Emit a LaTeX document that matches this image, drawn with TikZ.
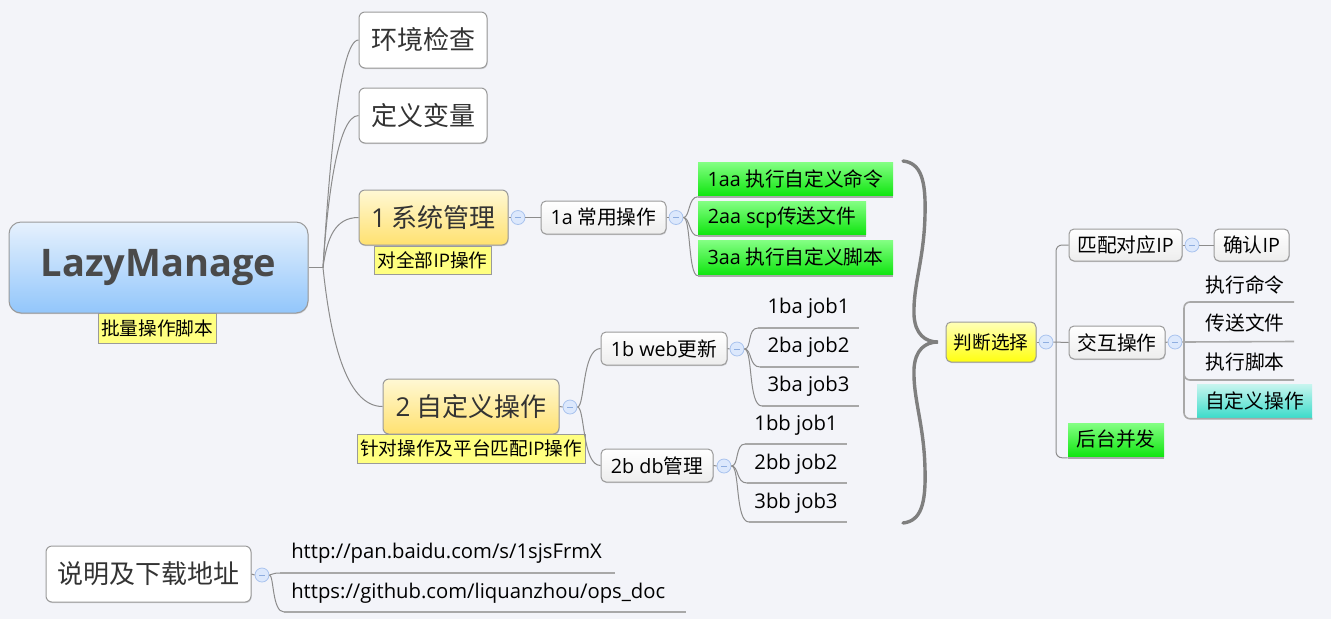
\documentclass[tikz,border=0pt]{standalone}
\usepackage{fontspec}
\setmainfont{Noto Sans CJK SC}
\newfontfamily\latf{Open Sans}
\usetikzlibrary{shadows}
\newdimen\PX \PX=0.75pt
\newcommand\LT[1]{{\latf #1}}
\newcommand\FSZ[1]{\fontsize{#1}{#1}\selectfont}
\definecolor{bg}{HTML}{F3F4F9}
\definecolor{bord}{HTML}{9A9A9A}
\definecolor{conn}{HTML}{8C8C8C}
\definecolor{uline}{HTML}{A8A8A8}
\definecolor{rootT}{HTML}{E6F1FD}
\definecolor{rootB}{HTML}{92C6FB}
\definecolor{yelT}{HTML}{FFF8D4}
\definecolor{yelB}{HTML}{FFE170}
\definecolor{lab}{HTML}{FFFF80}
\definecolor{grT}{HTML}{84FF84}
\definecolor{grB}{HTML}{12E612}
\definecolor{tlT}{HTML}{C8F5EF}
\definecolor{tlB}{HTML}{40DCCB}
\definecolor{jT}{HTML}{FFFFB8}
\definecolor{jB}{HTML}{FFFF10}
\definecolor{wB}{HTML}{EDEDED}
\definecolor{cirF}{HTML}{DCE8FC}
\definecolor{cirD}{HTML}{A9C3EE}
\definecolor{cirM}{HTML}{8FAEE0}
\definecolor{txt}{HTML}{333333}
\definecolor{roottxt}{HTML}{4A4A4A}
\definecolor{brace}{HTML}{7F7F7F}
\tikzset{
  base/.style={inner sep=0pt, text=txt},
  shad/.style={drop shadow={shadow xshift=0.4pt, shadow yshift=-0.8pt, fill=black, opacity=0.15}},
  boxed/.style={base, draw=bord, line width=1\PX, rounded corners=6\PX, shad},
  whitebox/.style={boxed, fill=white, font=\FSZ{19.5pt}},
  topicbox/.style={boxed, top color=yelT, bottom color=yelB, font=\FSZ{19.5pt}},
  subbox/.style={boxed, top color=white, bottom color=wB, text=black, rounded corners=5\PX, font=\FSZ{14.8pt}},
  rootbox/.style={boxed, top color=rootT, bottom color=rootB, rounded corners=12\PX, text=roottxt, font=\FSZ{28.5pt}},
  labelbox/.style={base, draw=bord, fill=lab, line width=1\PX, text=black, font=\FSZ{14pt}},
  greenbox/.style={base, top color=grT, bottom color=grB, text=black, font=\FSZ{14.8pt}},
  tealbox/.style={base, top color=tlT, bottom color=tlB, text=black, font=\FSZ{14.8pt}},
  judgebox/.style={boxed, top color=jT, bottom color=jB, text=black, rounded corners=5\PX, font=\FSZ{14pt}},
  plain/.style={base, text=black, font=\FSZ{14.8pt}},
  latplain/.style={base, text=black, font=\FSZ{15.2pt}},
  coll/.style={circle, inner sep=0pt, minimum size=14\PX, fill=cirF, draw=cirD, line width=0.8\PX,
    path picture={\draw[cirM, line width=0.9\PX] ([xshift=-2.6\PX]path picture bounding box.center) -- ([xshift=2.6\PX]path picture bounding box.center);}},
  cn/.style={draw=conn, line width=1\PX},
  ul/.style={draw=uline, line width=1.6\PX},
}
\begin{document}
\begin{tikzpicture}[x=0.75pt,y=-0.75pt]
\useasboundingbox[fill=bg] (0,0) rectangle (1331,619);

% ---------- root ----------
\node[rootbox, minimum width=299\PX, minimum height=91\PX] (root) at (158.5,267.5) {\latf\bfseries LazyManage};
\node[labelbox, minimum width=118\PX, minimum height=30\PX] (rootlab) at (157,328) {批量操作脚本};
\coordinate (rj) at (323,267.5);

% ---------- first-level topics ----------
\node[whitebox, minimum width=128\PX, minimum height=56\PX] (env) at (423,40) {环境检查};
\node[whitebox, minimum width=128\PX, minimum height=55\PX] (def) at (423,115.5) {定义变量};
\node[topicbox, minimum width=149\PX, minimum height=55\PX] (sys) at (433.5,217.5) {\LT{1} 系统管理};
\node[labelbox, minimum width=117\PX, minimum height=28\PX] (syslab) at (432.5,260) {对全部\LT{IP}操作};
\node[topicbox, minimum width=176\PX, minimum height=55\PX] (cus) at (471,406.5) {\LT{2} 自定义操作};
\node[labelbox, minimum width=228\PX, minimum height=29\PX] (cuslab) at (471,448.5) {针对操作及平台匹配\LT{IP}操作};

\draw[cn] (root.east) -- (rj);
\draw[cn] (rj) .. controls (328,190) and (338,40) .. (env.west);
\draw[cn] (rj) .. controls (327,205) and (337,115.5) .. (def.west);
\draw[cn] (rj) .. controls (327,238) and (335,217.5) .. (sys.west);
\draw[cn] (rj) .. controls (330,335) and (345,406.5) .. (cus.west);

% ---------- 1 system ----------
\node[coll] (csys) at (518,217.5) {};
\node[subbox, minimum width=125\PX, minimum height=33\PX] (a1) at (603.5,217.5) {\LT{1a} 常用操作};
\node[coll] (ca1) at (676,217.5) {};
\node[greenbox, minimum width=195\PX, minimum height=33\PX] (aa1) at (795.5,178.5) {\LT{1aa} 执行自定义命令};
\node[greenbox, minimum width=168\PX, minimum height=33\PX] (aa2) at (782,217.5) {\LT{2aa scp}传送文件};
\node[greenbox, minimum width=195\PX, minimum height=34\PX] (aa3) at (795.5,257) {\LT{3aa} 执行自定义脚本};

\draw[cn] (sys.east) -- (csys.west);
\draw[cn] (csys.east) -- (a1.west);
\draw[cn] (a1.east) -- (ca1.west);
\draw[cn] (ca1.east) .. controls (690,217.5) and (688,197) .. ([yshift=-1.5\PX]aa1.south west);
\draw[cn] (ca1.east) .. controls (690,217.5) and (689,236) .. ([yshift=-1.5\PX]aa2.south west);
\draw[cn] (ca1.east) .. controls (691,217.5) and (688,275) .. ([yshift=-1.5\PX]aa3.south west);
\draw[ul] ([yshift=-1.5\PX]aa1.south west) -- ([yshift=-1.5\PX]aa1.south east);
\draw[ul] ([yshift=-1.5\PX]aa2.south west) -- ([yshift=-1.5\PX]aa2.south east);
\draw[ul] ([yshift=-1.5\PX]aa3.south west) -- ([yshift=-1.5\PX]aa3.south east);

% ---------- 2 custom ----------
\node[coll] (ccus) at (570,407) {};
\node[subbox, minimum width=126\PX, minimum height=33\PX] (b1) at (664,348.5) {\LT{1b web}更新};
\node[subbox, minimum width=112\PX, minimum height=33\PX] (b2) at (657,465.5) {\LT{2b db}管理};
\node[coll] (cb1) at (737,349) {};
\node[coll] (cb2) at (724,466) {};
\draw[cn] (cus.east) -- (ccus.west);
\draw[cn] (ccus.east) .. controls (585,407) and (582,348.5) .. (b1.west);
\draw[cn] (ccus.east) .. controls (585,407) and (582,465.5) .. (b2.west);
\draw[cn] (b1.east) -- (cb1.west);
\draw[cn] (b2.east) -- (cb2.west);

\node[latplain] (ba1) at (808.5,308) {\latf 1ba job1};
\node[latplain] (ba2) at (808.5,347) {\latf 2ba job2};
\node[latplain] (ba3) at (808.5,386) {\latf 3ba job3};
\coordinate (ba1L) at (758,328); \coordinate (ba1R) at (859,328);
\coordinate (ba2L) at (760,367); \coordinate (ba2R) at (859,367);
\coordinate (ba3L) at (762,406); \coordinate (ba3R) at (859,406);
\draw[cn] (cb1.east) .. controls (752,349) and (747,328) .. (ba1L);
\draw[cn] (cb1.east) .. controls (752,349) and (749,367) .. (ba2L);
\draw[cn] (cb1.east) .. controls (753,349) and (748,406) .. (ba3L);
\draw[ul] (ba1L) -- (ba1R); \draw[ul] (ba2L) -- (ba2R); \draw[ul] (ba3L) -- (ba3R);

\node[latplain] (bb1) at (796,425) {\latf 1bb job1};
\node[latplain] (bb2) at (796,464) {\latf 2bb job2};
\node[latplain] (bb3) at (796,503) {\latf 3bb job3};
\coordinate (bb1L) at (745,444); \coordinate (bb1R) at (847,444);
\coordinate (bb2L) at (747,483); \coordinate (bb2R) at (847,483);
\coordinate (bb3L) at (749,522); \coordinate (bb3R) at (847,522);
\draw[cn] (cb2.east) .. controls (739,466) and (735,444) .. (bb1L);
\draw[cn] (cb2.east) .. controls (739,466) and (736,483) .. (bb2L);
\draw[cn] (cb2.east) .. controls (740,466) and (735,522) .. (bb3L);
\draw[ul] (bb1L) -- (bb1R); \draw[ul] (bb2L) -- (bb2R); \draw[ul] (bb3L) -- (bb3R);

% ---------- brace ----------
\draw[brace, line width=3.4\PX, line cap=round]
  (903,161) .. controls (921,163) and (926,180) .. (925,215)
  .. controls (924,260) and (913,285) .. (914,315)
  .. controls (915,334) and (925,342) .. (938,342)
  .. controls (925,342) and (915,350) .. (914,369)
  .. controls (913,399) and (924,424) .. (925,469)
  .. controls (926,504) and (921,521) .. (903,523);

% ---------- judge ----------
\node[judgebox, minimum width=90\PX, minimum height=40\PX] (judge) at (991,342) {判断选择};
\node[coll] (cjudge) at (1046,342) {};
\coordinate (jt) at (1056,342);
\node[subbox, minimum width=113\PX, minimum height=32\PX] (match) at (1125.5,245) {匹配对应\LT{IP}};
\node[coll] (cmatch) at (1192,245) {};
\node[subbox, minimum width=75\PX, minimum height=32\PX] (confirm) at (1251.5,245) {确认\LT{IP}};
\node[subbox, minimum width=96\PX, minimum height=33\PX] (inter) at (1117,342.5) {交互操作};
\node[coll] (cinter) at (1175,342) {};
\node[greenbox, minimum width=96\PX, minimum height=33\PX] (bgj) at (1116,439.5) {后台并发};

\draw[cn] (judge.east) -- (cjudge.west);
\draw[cn] (cjudge.east) -- (inter.west);
\draw[cn, rounded corners=6\PX] (jt) |- (match.west);
\draw[cn, rounded corners=6\PX] (jt) |- ([yshift=-1.5\PX]bgj.south west);
\draw[ul] ([yshift=-1.5\PX]bgj.south west) -- ([yshift=-1.5\PX]bgj.south east);
\draw[cn] (match.east) -- (cmatch.west);
\draw[cn] (cmatch.east) -- (confirm.west);
\draw[cn] (inter.east) -- (cinter.west);

\coordinate (it) at (1184,342);
\node[plain] (i1) at (1245,285) {执行命令};
\node[plain] (i2) at (1245,323) {传送文件};
\node[plain] (i3) at (1245,362) {执行脚本};
\node[tealbox, minimum width=115\PX, minimum height=33\PX] (i4) at (1254.5,400.5) {自定义操作};
\coordinate (i1R) at (1294,302);
\coordinate (i2R) at (1294,341.5);
\coordinate (i3R) at (1294,380);
\draw[ul, rounded corners=6\PX] (it) |- (i1R);
\draw[ul] (cinter.east) -- (i2R);
\draw[ul, rounded corners=6\PX] (it) |- (i3R);
\draw[ul, rounded corners=6\PX] (it) |- ([yshift=-1.5\PX]i4.south east);

% ---------- doc ----------
\node[whitebox, minimum width=205\PX, minimum height=56\PX] (doc) at (148.5,574) {说明及下载地址};
\node[coll] (cdoc) at (262,575) {};
\draw[cn] (doc.east) -- (cdoc.west);
\node[latplain, anchor=west] (u1) at (291,553) {\latf http://pan.baidu.com/s/1sjsFrmX};
\node[latplain, anchor=west] (u2) at (291,593) {\latf https://github.com/liquanzhou/ops\_doc};
\coordinate (u1L) at (280,573); \coordinate (u1R) at (615,573);
\coordinate (u2L) at (284,612); \coordinate (u2R) at (686,612);
\draw[cn] (cdoc.east) .. controls (273,575) and (271,573) .. (u1L);
\draw[cn] (cdoc.east) .. controls (274,575) and (272,612) .. (u2L);
\draw[ul] (u1L) -- (u1R); \draw[ul] (u2L) -- (u2R);
\end{tikzpicture}
\end{document}
